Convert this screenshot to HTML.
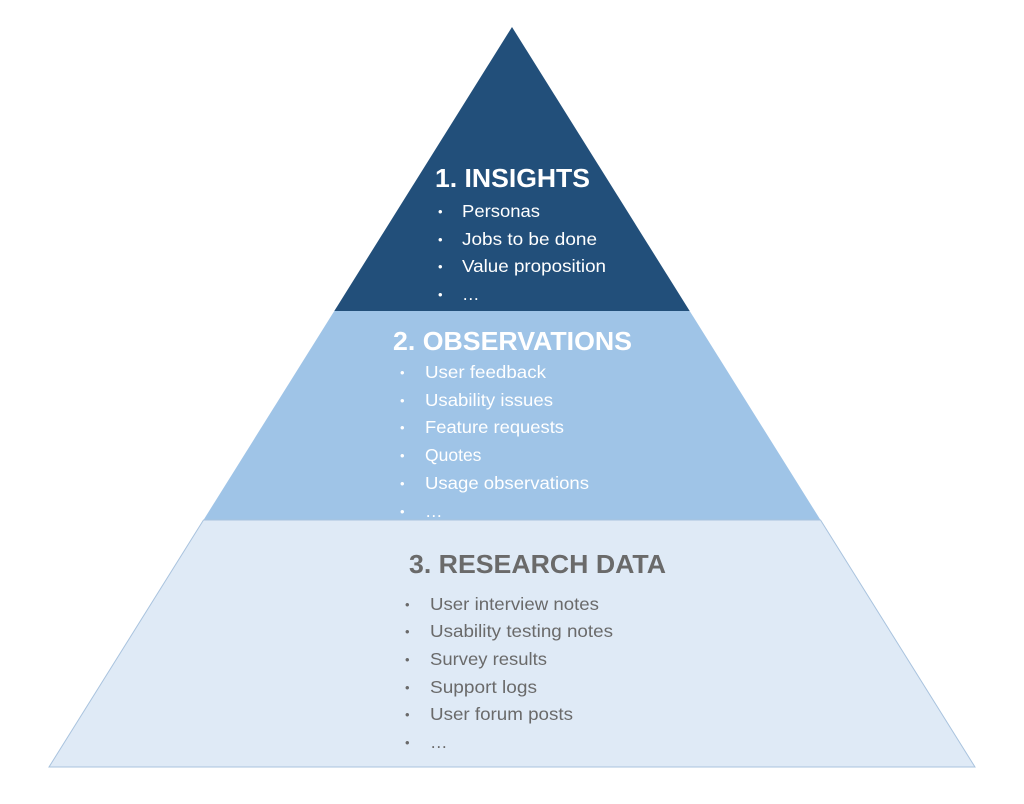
<!DOCTYPE html>
<html><head><style>body{margin:0;background:#fff}svg{display:block}</style></head><body>
<svg width="1024" height="804" viewBox="0 0 1024 804" xmlns="http://www.w3.org/2000/svg" font-family="Liberation Sans, sans-serif">
<polygon points="512,27 689.7,311 334.3,311" fill="#224f7a"/>
<polygon points="334.3,311 689.7,311 820.5,520 203.5,520" fill="#9fc4e7"/>
<polygon points="203.5,520 820.5,520 975,767 49,767" fill="#dfeaf6" stroke="#a9c3de" stroke-width="1"/>
<g fill="#fff">
<text x="435" y="187" font-size="26" font-weight="bold" textLength="155" lengthAdjust="spacingAndGlyphs">1. INSIGHTS</text>
<g font-size="17.5">
<text x="438" y="216" font-size="13">•</text><text x="462" y="217" textLength="78" lengthAdjust="spacingAndGlyphs">Personas</text>
<text x="438" y="244" font-size="13">•</text><text x="462" y="245" textLength="135" lengthAdjust="spacingAndGlyphs">Jobs to be done</text>
<text x="438" y="271" font-size="13">•</text><text x="462" y="272" textLength="144" lengthAdjust="spacingAndGlyphs">Value proposition</text>
<text x="438" y="299" font-size="13">•</text><text x="462" y="300">…</text>
</g>
<text x="393" y="350" font-size="26" font-weight="bold" textLength="239" lengthAdjust="spacingAndGlyphs">2. OBSERVATIONS</text>
<g font-size="17.5">
<text x="400" y="377" font-size="13">•</text><text x="425" y="378" textLength="121" lengthAdjust="spacingAndGlyphs">User feedback</text>
<text x="400" y="405" font-size="13">•</text><text x="425" y="406" textLength="128" lengthAdjust="spacingAndGlyphs">Usability issues</text>
<text x="400" y="432" font-size="13">•</text><text x="425" y="433" textLength="139" lengthAdjust="spacingAndGlyphs">Feature requests</text>
<text x="400" y="460" font-size="13">•</text><text x="425" y="461">Quotes</text>
<text x="400" y="488" font-size="13">•</text><text x="425" y="489" textLength="164" lengthAdjust="spacingAndGlyphs">Usage observations</text>
<text x="400" y="516" font-size="13">•</text><text x="425" y="517">…</text>
</g>
</g>
<g fill="#6a6a6a">
<text x="409" y="573" font-size="26" font-weight="bold" textLength="257" lengthAdjust="spacingAndGlyphs">3. RESEARCH DATA</text>
<g font-size="17.5">
<text x="405" y="609" font-size="13">•</text><text x="430" y="610" textLength="169" lengthAdjust="spacingAndGlyphs">User interview notes</text>
<text x="405" y="636" font-size="13">•</text><text x="430" y="637" textLength="183" lengthAdjust="spacingAndGlyphs">Usability testing notes</text>
<text x="405" y="664" font-size="13">•</text><text x="430" y="665" textLength="117" lengthAdjust="spacingAndGlyphs">Survey results</text>
<text x="405" y="692" font-size="13">•</text><text x="430" y="693" textLength="107" lengthAdjust="spacingAndGlyphs">Support logs</text>
<text x="405" y="719" font-size="13">•</text><text x="430" y="720" textLength="143" lengthAdjust="spacingAndGlyphs">User forum posts</text>
<text x="405" y="747" font-size="13">•</text><text x="430" y="748">…</text>
</g>
</g>
</svg>
</body></html>
